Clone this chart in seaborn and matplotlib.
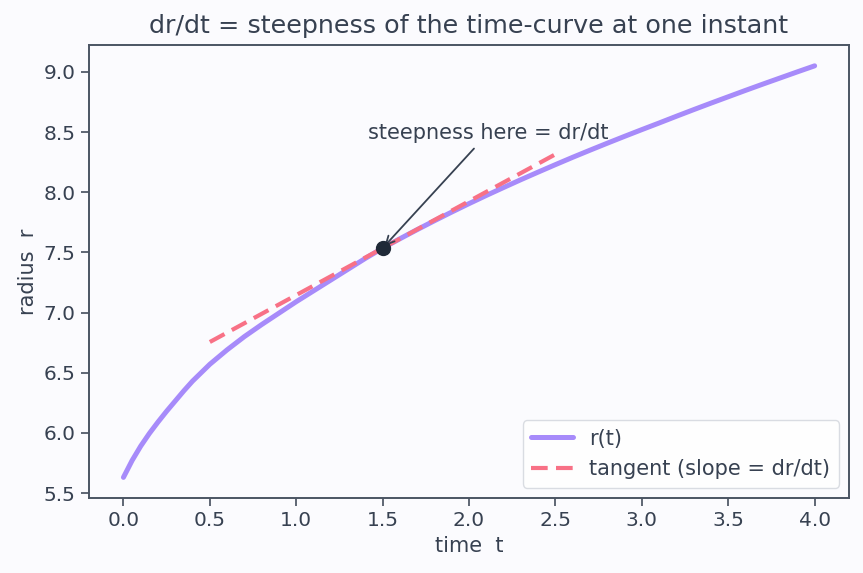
import matplotlib
matplotlib.use("Agg")
import matplotlib.pyplot as plt
import seaborn as sns

# curve r(t), values
t_vals = [0.0, 0.05, 0.1, 0.15, 0.2, 0.25, 0.3, 0.35, 0.4, 0.5, 0.6, 0.7, 0.8, 0.9,
          1.0, 1.1, 1.2, 1.3, 1.4, 1.5, 1.6, 1.7, 1.8, 1.9,
          2.0, 2.1, 2.2, 2.3, 2.4, 2.5, 2.6, 2.7, 2.8, 2.9,
          3.0, 3.1, 3.2, 3.3, 3.4, 3.5, 3.6, 3.7, 3.8, 3.9, 4.0]
r_vals = [5.63, 5.77, 5.89, 5.995, 6.09, 6.18, 6.265, 6.35, 6.43, 6.57, 6.69, 6.80, 6.90, 6.995,
          7.09, 7.18, 7.27, 7.36, 7.45, 7.535, 7.613, 7.689, 7.763, 7.835,
          7.905, 7.973, 8.039, 8.104, 8.167, 8.229, 8.29, 8.349, 8.407, 8.464,
          8.52, 8.575, 8.631, 8.686, 8.74, 8.793, 8.846, 8.898, 8.949, 9.0, 9.05]

# tangent segment and the touching point
tan_t = [0.5, 2.5]
tan_r = [6.755, 8.315]
pt_t = [1.5]
pt_r = [7.535]

bg = "#fbfbfe"
ink = "#374151"
sns.set_theme(style="ticks", rc={
    "figure.facecolor": bg, "axes.facecolor": bg,
    "axes.edgecolor": "#4b5563", "text.color": ink,
    "axes.labelcolor": ink, "xtick.color": "#4b5563", "ytick.color": "#4b5563",
})

fig, ax = plt.subplots(figsize=(8.63, 5.73), dpi=100)
fig.subplots_adjust(left=0.103, right=0.984, top=0.921, bottom=0.131)

sns.lineplot(x=t_vals, y=r_vals, ax=ax, color="#a78bfa", lw=3.6, label="r(t)")
sns.lineplot(x=tan_t, y=tan_r, ax=ax, color="#f87186", lw=3.0,
             linestyle=(0, (4, 2)), label="tangent (slope = dr/dt)")
ax.plot(pt_t, pt_r, "o", color="#1f2937", ms=10, zorder=5)

ax.annotate("steepness here = dr/dt", xy=(pt_t[0], pt_r[0]), xytext=(2.11, 8.49),
            ha="center", va="center", fontsize=15, color=ink,
            arrowprops=dict(arrowstyle="->", color=ink, lw=1.3))

ax.set_title("dr/dt = steepness of the time-curve at one instant", fontsize=18.3,
             color=ink, pad=9)
ax.set_xlabel("time  t", fontsize=15)
ax.set_ylabel("radius  r", fontsize=15)
ax.tick_params(labelsize=14.5, labelcolor=ink, length=6)
for s in ax.spines.values():
    s.set_linewidth(1.4)

leg = ax.legend(loc="lower right", fontsize=15, frameon=True)
leg.get_frame().set_edgecolor("#d1d5db")
leg.get_frame().set_facecolor("white")
for txt in leg.get_texts():
    txt.set_color(ink)

fig.savefig("out.png", dpi=100, facecolor=bg)
